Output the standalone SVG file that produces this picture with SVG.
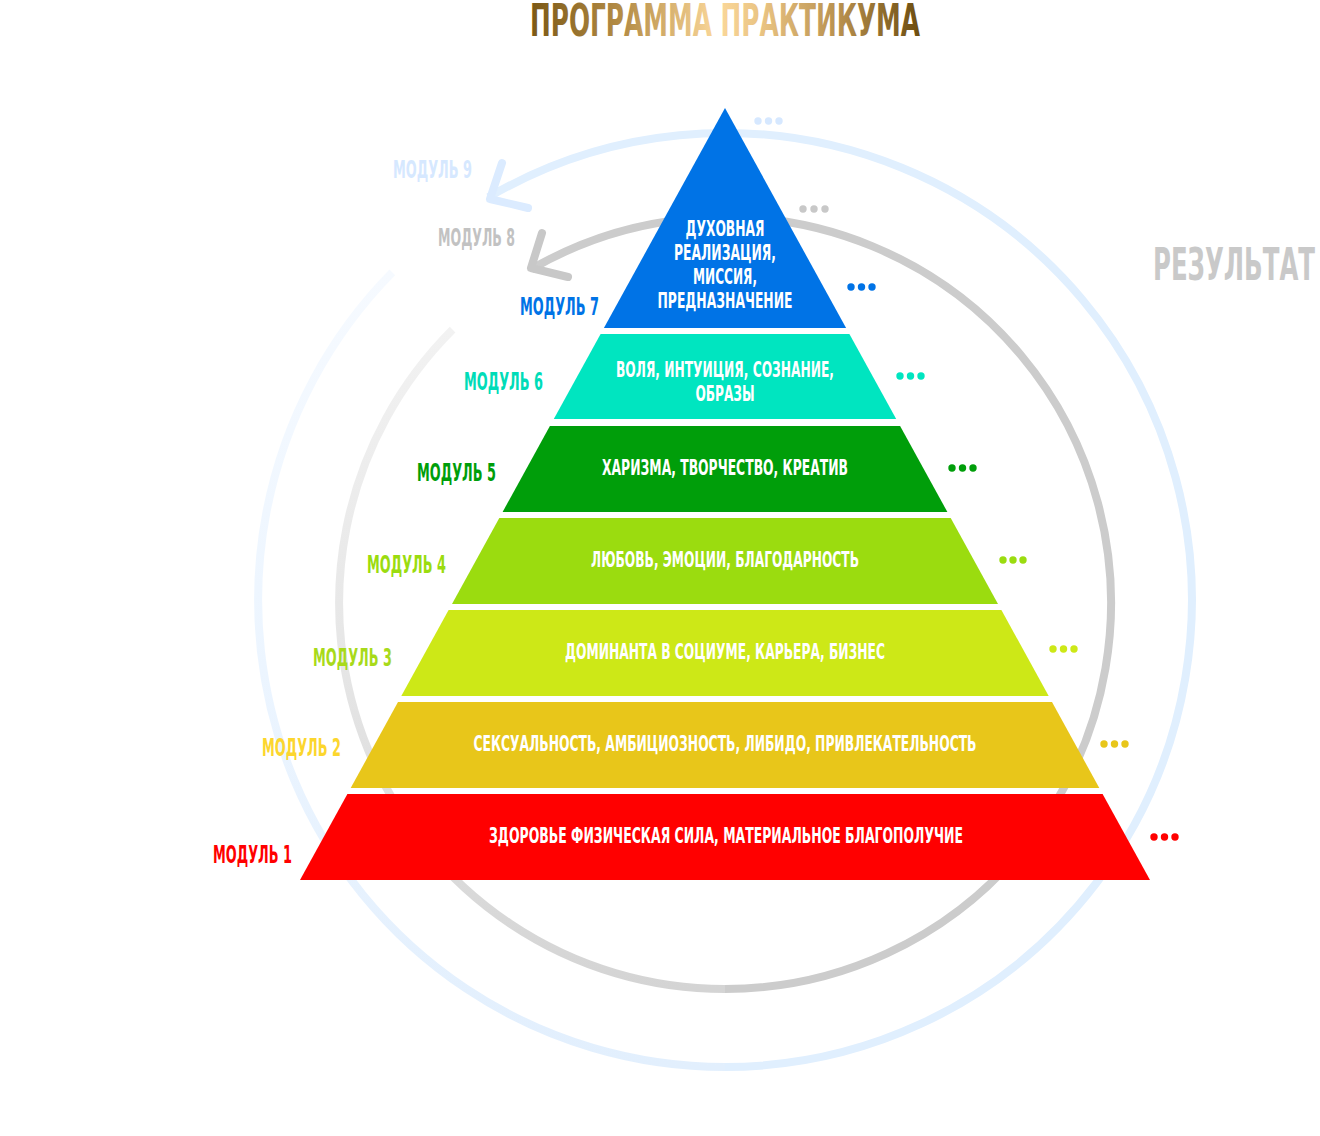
<svg xmlns="http://www.w3.org/2000/svg" width="1320" height="1136" viewBox="0 0 1320 1136">
  <defs>
    <linearGradient id="titleGrad" gradientUnits="userSpaceOnUse" x1="530" y1="0" x2="920" y2="0">
      <stop offset="0" stop-color="#7a5815"/>
      <stop offset="0.25" stop-color="#b8904a"/>
      <stop offset="0.48" stop-color="#fbd89b"/>
      <stop offset="0.6" stop-color="#e8c281"/>
      <stop offset="0.8" stop-color="#b68e4c"/>
      <stop offset="1" stop-color="#6c4d10"/>
    </linearGradient>
    <linearGradient id="blueFade" gradientUnits="userSpaceOnUse" x1="0" y1="272" x2="0" y2="1067">
      <stop offset="0" stop-color="#f6faff"/>
      <stop offset="0.5" stop-color="#ecf5ff"/>
      <stop offset="1" stop-color="#e2effd"/>
    </linearGradient>
    <linearGradient id="grayFade" gradientUnits="userSpaceOnUse" x1="0" y1="330" x2="0" y2="989">
      <stop offset="0" stop-color="#f2f2f2"/>
      <stop offset="0.5" stop-color="#e6e6e6"/>
      <stop offset="1" stop-color="#d4d4d4"/>
    </linearGradient>
    <style>
      .cond { font-family: "Liberation Sans Narrow", "DejaVu Sans Condensed", "Liberation Sans", sans-serif; font-weight: bold; }
      .lay { fill: #ffffff; font-size: 22px; text-anchor: middle; }
      .mod { font-size: 25px; }
      .arc { fill: none; stroke-width: 8; }
      .chev { fill: none; stroke-width: 8; stroke-linecap: round; stroke-linejoin: round; }
    </style>
  </defs>

  <text id="title" class="cond" x="725" y="36" font-size="44" text-anchor="middle" textLength="390" lengthAdjust="spacingAndGlyphs" fill="url(#titleGrad)">ПРОГРАММА ПРАКТИКУМА</text>
  <text id="result" class="cond" x="1315" y="280" font-size="45" text-anchor="end" textLength="162" lengthAdjust="spacingAndGlyphs" fill="#c9c9c9">РЕЗУЛЬТАТ</text>

  <g id="connectors">
    <path class="arc" stroke="url(#blueFade)" d="M392.3,272.4 A467,467 0 0 0 725,1067"/>
    <path class="arc" stroke="#e0effe" d="M725,1067 A467,467 0 1 0 488.4,197.3"/>
    <polyline class="chev" stroke="#dbebff" points="502,163 490,199 528,208"/>
    <path class="arc" stroke="url(#grayFade)" d="M452.6,329.6 A386,386 0 0 0 725,989"/>
    <path class="arc" stroke="#cccccc" d="M725,989 A386,386 0 1 0 531.2,269.2"/>
    <polyline class="chev" stroke="#c8c8c8" points="542,233 531,268 568,277"/>
  </g>

  <g id="module7">
    <polygon points="725,108 846.1,328 603.9,328" fill="#0073e6"/>
    <text class="cond lay" x="725" y="236" textLength="79" lengthAdjust="spacingAndGlyphs">ДУХОВНАЯ</text>
    <text class="cond lay" x="725" y="260" textLength="102" lengthAdjust="spacingAndGlyphs">РЕАЛИЗАЦИЯ,</text>
    <text class="cond lay" x="725" y="284" textLength="64" lengthAdjust="spacingAndGlyphs">МИССИЯ,</text>
    <text class="cond lay" x="725" y="308" textLength="135" lengthAdjust="spacingAndGlyphs">ПРЕДНАЗНАЧЕНИЕ</text>
    <text class="cond mod" x="520" y="315" textLength="79" lengthAdjust="spacingAndGlyphs" fill="#0073e6">МОДУЛЬ 7</text>
    <g fill="#0073e6"><circle cx="851" cy="287" r="3.7"/><circle cx="861.5" cy="287" r="3.7"/><circle cx="872" cy="287" r="3.7"/></g>
  </g>

  <g id="module6">
    <polygon points="600.6,334 849.4,334 896.2,419 553.8,419" fill="#00e5c0"/>
    <text class="cond lay" x="725" y="377" textLength="218" lengthAdjust="spacingAndGlyphs">ВОЛЯ, ИНТУИЦИЯ, СОЗНАНИЕ,</text>
    <text class="cond lay" x="725" y="401" textLength="59" lengthAdjust="spacingAndGlyphs">ОБРАЗЫ</text>
    <text class="cond mod" x="464" y="390" textLength="79" lengthAdjust="spacingAndGlyphs" fill="#00dcb8">МОДУЛЬ 6</text>
    <g fill="#00e5c0"><circle cx="900" cy="376" r="3.7"/><circle cx="910.5" cy="376" r="3.7"/><circle cx="921" cy="376" r="3.7"/></g>
  </g>

  <g id="module5">
    <polygon points="549.9,426 900.1,426 947.4,512 502.6,512" fill="#009e0a"/>
    <text class="cond lay" x="725" y="475" textLength="246" lengthAdjust="spacingAndGlyphs">ХАРИЗМА, ТВОРЧЕСТВО, КРЕАТИВ</text>
    <text class="cond mod" x="417" y="481" textLength="79" lengthAdjust="spacingAndGlyphs" fill="#009e0a">МОДУЛЬ 5</text>
    <g fill="#009e0a"><circle cx="952" cy="468" r="3.7"/><circle cx="962.5" cy="468" r="3.7"/><circle cx="973" cy="468" r="3.7"/></g>
  </g>

  <g id="module4">
    <polygon points="499.3,518 950.7,518 998,604 452,604" fill="#9bdc0f"/>
    <text class="cond lay" x="725" y="567" textLength="268" lengthAdjust="spacingAndGlyphs">ЛЮБОВЬ, ЭМОЦИИ, БЛАГОДАРНОСТЬ</text>
    <text class="cond mod" x="367" y="573" textLength="79" lengthAdjust="spacingAndGlyphs" fill="#9bdc0f">МОДУЛЬ 4</text>
    <g fill="#9bdc0f"><circle cx="1003" cy="560" r="3.7"/><circle cx="1013" cy="560" r="3.7"/><circle cx="1023" cy="560" r="3.7"/></g>
  </g>

  <g id="module3">
    <polygon points="448.6,610 1001.4,610 1048.7,696 401.3,696" fill="#cde817"/>
    <text class="cond lay" x="725" y="659" textLength="320" lengthAdjust="spacingAndGlyphs">ДОМИНАНТА В СОЦИУМЕ, КАРЬЕРА, БИЗНЕС</text>
    <text class="cond mod" x="313" y="666" textLength="79" lengthAdjust="spacingAndGlyphs" fill="#a8da1a">МОДУЛЬ 3</text>
    <g fill="#cde817"><circle cx="1053" cy="649" r="3.7"/><circle cx="1063.5" cy="649" r="3.7"/><circle cx="1074" cy="649" r="3.7"/></g>
  </g>

  <g id="module2">
    <polygon points="398,702 1052,702 1099.3,788 350.7,788" fill="#e8c61a"/>
    <text class="cond lay" x="725" y="751" textLength="503" lengthAdjust="spacingAndGlyphs">СЕКСУАЛЬНОСТЬ, АМБИЦИОЗНОСТЬ, ЛИБИДО, ПРИВЛЕКАТЕЛЬНОСТЬ</text>
    <text class="cond mod" x="262" y="756" textLength="79" lengthAdjust="spacingAndGlyphs" fill="#fcd62e">МОДУЛЬ 2</text>
    <g fill="#e8c61a"><circle cx="1104" cy="744" r="3.7"/><circle cx="1114.5" cy="744" r="3.7"/><circle cx="1125" cy="744" r="3.7"/></g>
  </g>

  <g id="module1">
    <polygon points="347.4,794 1102.6,794 1150,880 300,880" fill="#ff0000"/>
    <text class="cond lay" x="726" y="843" textLength="474" lengthAdjust="spacingAndGlyphs">ЗДОРОВЬЕ ФИЗИЧЕСКАЯ СИЛА, МАТЕРИАЛЬНОЕ БЛАГОПОЛУЧИЕ</text>
    <text class="cond mod" x="213" y="863" textLength="79" lengthAdjust="spacingAndGlyphs" fill="#ff0000">МОДУЛЬ 1</text>
    <g fill="#ff0000"><circle cx="1154" cy="837" r="3.7"/><circle cx="1164.5" cy="837" r="3.7"/><circle cx="1175" cy="837" r="3.7"/></g>
  </g>

  <g id="module8">
    <text class="cond mod" x="438" y="246" textLength="77" lengthAdjust="spacingAndGlyphs" fill="#c2c2c2">МОДУЛЬ 8</text>
    <g fill="#c8c8c8"><circle cx="803" cy="209" r="3.7"/><circle cx="814" cy="209" r="3.7"/><circle cx="825" cy="209" r="3.7"/></g>
  </g>

  <g id="module9">
    <text class="cond mod" x="393" y="178" textLength="79" lengthAdjust="spacingAndGlyphs" fill="#d6e8ff">МОДУЛЬ 9</text>
    <g fill="#d6e8ff"><circle cx="758" cy="121" r="3.7"/><circle cx="768.5" cy="121" r="3.7"/><circle cx="779" cy="121" r="3.7"/></g>
  </g>
</svg>
